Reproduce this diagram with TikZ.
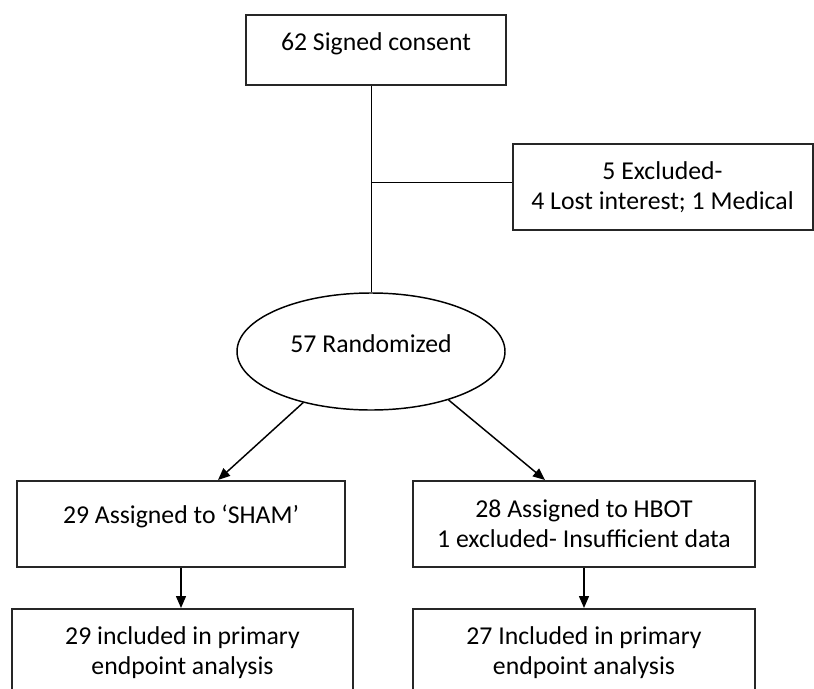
\documentclass[tikz,border=0pt]{standalone}
\usepackage{fontspec}
\setmainfont{Carlito}
\usetikzlibrary{shapes,arrows.meta}

\begin{document}
\begin{tikzpicture}[x=0.75pt, y=-0.75pt,
    block/.style ={rectangle, draw=black!85, line width=1.5pt, fill=white,
      align=center, inner sep=0pt, minimum height=64.5pt,
      font=\fontsize{19.3}{22.5}\selectfont},
    cloud/.style ={ellipse, draw=black, line width=1.1pt, fill=white,
      inner sep=0pt, minimum width=201pt, minimum height=87.75pt,
      text height=14pt, text depth=11.8pt,
      font=\fontsize{19.3}{22.5}\selectfont},
    line/.style ={draw, line width=0.75pt},
    arrow/.style ={draw, line width=1.1pt, -{Triangle[length=9pt, width=7.5pt]}}]

    \useasboundingbox (0,0) rectangle (814,689);

    % Place nodes
    \node [block, minimum width=195pt, minimum height=52.5pt,
      text height=14pt, text depth=14pt] (consent) at (376,50) {62 Signed consent};
    \node [block, minimum width=225pt] (excluded) at (662.5,187)
      {5 Excluded-\\4 Lost interest; 1 Medical};
    \node [cloud] (randomized) at (371,351.5) {57 Randomized};
    \node [block, minimum width=246pt, text height=14pt, text depth=15.5pt]
      (sham) at (181,524) {29 Assigned to `SHAM'};
    \node [block, minimum width=256.5pt] (hbot) at (584,524)
      {28 Assigned to HBOT\\1 excluded- Insufficient data};
    \node [block, anchor=north, minimum width=255.75pt, minimum height=66pt]
      (shamIncl) at (182.5,608) {29 included in primary\\endpoint analysis};
    \node [block, anchor=north, minimum width=256.5pt, minimum height=66pt]
      (hbotIncl) at (584,608) {27 Included in primary\\endpoint analysis};

    % Drawing paths
    \path [line] (randomized.north) -- (randomized.north |- consent.south);
    \path [line] ([yshift=3.75pt]randomized.north |- excluded.west)
      -- ([yshift=3.75pt]excluded.west);

    \path [arrow] (randomized.217) -- ([xshift=27.75pt]sham.north);
    \path [arrow] (randomized.328) -- ([xshift=-29.25pt]hbot.north);
    \path [arrow] (sham.south) -- (sham.south |- shamIncl.north);
    \path [arrow] (hbot.south) -- (hbot.south |- hbotIncl.north);

\end{tikzpicture}
\end{document}
